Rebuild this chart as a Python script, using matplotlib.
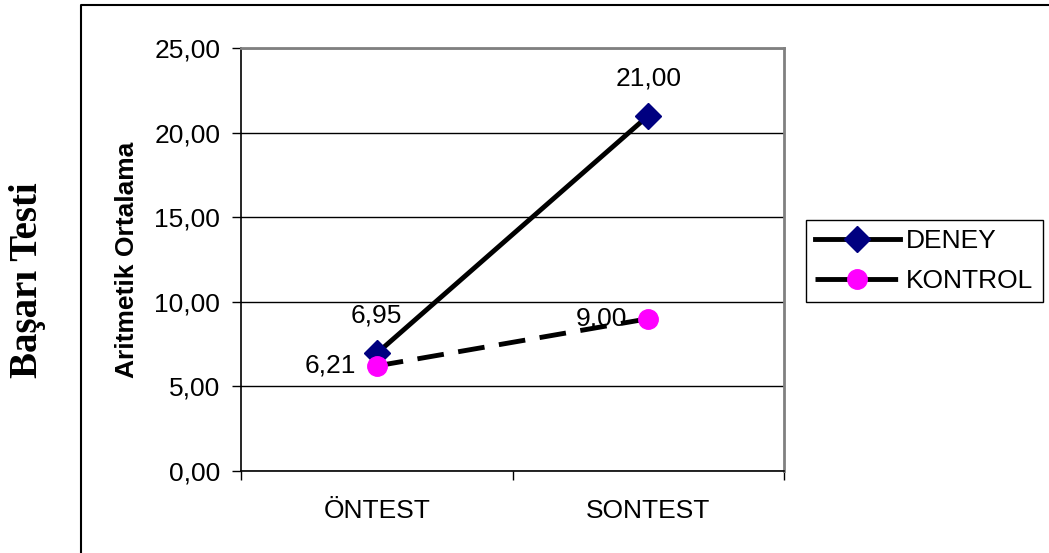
import matplotlib.pyplot as plt
from matplotlib.lines import Line2D
from matplotlib.ticker import FuncFormatter

categories = ['ÖNTEST', 'SONTEST']
deney = [6.95, 21.00]
kontrol = [6.21, 9.00]
y_ticks = [0, 5, 10, 15, 20, 25]

plt.rcParams['font.family'] = ['Liberation Sans', 'DejaVu Sans']

fig = plt.figure(figsize=(10.49, 5.53), dpi=100)
ax = fig.add_axes([241/1049, 1 - 471/553, 543/1049, 423/553])

x = list(range(len(categories)))
deney_style = dict(color='black', lw=3.5, marker='D', ms=13,
                   markerfacecolor='#000080', markeredgecolor='#000080')
kontrol_style = dict(color='black', lw=3.5, marker='o', ms=14,
                     markerfacecolor='#FF00FF', markeredgecolor='#FF00FF')
ax.plot(x, deney, zorder=4, **deney_style)
ax.plot(x, kontrol, dashes=(5.5, 3), zorder=4, **kontrol_style)

fmt = lambda v: f'{v:.2f}'.replace('.', ',')

# data labels
for xi, v in zip(x, deney):
    ax.annotate(fmt(v), (xi, v), xytext=(0, 27), textcoords='offset points',
                ha='center', va='center', fontsize=19, zorder=2)
for xi, v in zip(x, kontrol):
    ax.annotate(fmt(v), (xi, v), xytext=(-15, 0), textcoords='offset points',
                ha='right', va='center', fontsize=19, zorder=2)

ax.set_xlim(-0.5, len(categories) - 0.5)
ax.set_ylim(0, 25)
ax.set_yticks(y_ticks)
ax.yaxis.set_major_formatter(FuncFormatter(lambda v, p: fmt(v)))
ax.set_xticks([i - 0.5 for i in range(len(categories) + 1)])
ax.set_xticklabels([])
ax.set_xticks(x, minor=True)
ax.set_xticklabels(categories, minor=True)
ax.tick_params(axis='both', which='major', direction='out', length=6.5, width=1,
               color='black', labelsize=19, pad=8.5)
ax.tick_params(axis='x', which='minor', length=0, labelsize=19, pad=20)

ax.grid(axis='y', color='black', lw=1)
ax.set_axisbelow(True)
for s in ['left', 'bottom']:
    ax.spines[s].set_color('black')
    ax.spines[s].set_linewidth(1.2)
for s in ['top', 'right']:
    ax.spines[s].set_color('#808080')
    ax.spines[s].set_linewidth(2)

fig.text(127/1049, 1 - 260/553, 'Aritmetik Ortalama', rotation=90, ha='center',
         va='center', fontsize=19, fontweight='bold')
fig.text(28/1049, 1 - 280/553, 'Başarı Testi', rotation=90, ha='center', va='center',
         fontsize=28, fontweight='bold', family=['Liberation Serif', 'DejaVu Serif'])

# outer frame
fx = 81/1049
fy = 1 - 5/553
fig.add_artist(Line2D([fx, fx, 1], [0, fy, fy], transform=fig.transFigure,
                      color='black', lw=1.5))

handles = [Line2D([], [], **deney_style),
           Line2D([], [], dashes=(7, 3), **kontrol_style)]
leg = fig.legend(handles, ['DENEY', 'KONTROL'], loc='upper left',
                 bbox_to_anchor=(806/1049, 1 - 220/553),
                 fontsize=19, handlelength=3.2, handletextpad=0.25, borderpad=0.35,
                 labelspacing=0.6, borderaxespad=0, fancybox=False, framealpha=1,
                 edgecolor='black')
leg.get_frame().set_linewidth(1)

fig.savefig('out.png', dpi=100)
